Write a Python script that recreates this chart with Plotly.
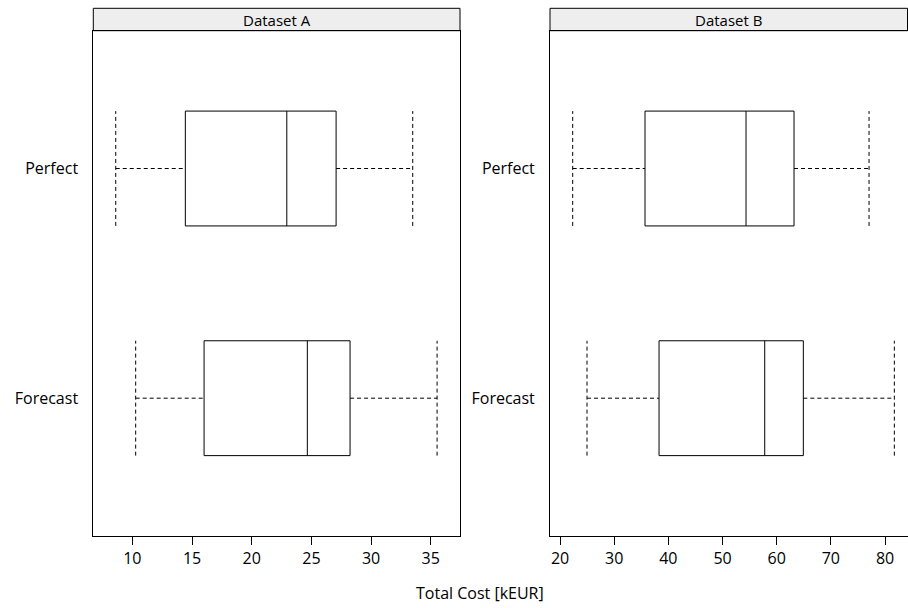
import plotly.graph_objects as go

# Box-and-whisker summaries of total cost per scenario (kEUR)
categories = ["Forecast", "Perfect"]
panels = ["Dataset A", "Dataset B"]

lower_a = [10.28, 8.61]
q1_a = [16.01, 14.44]
median_a = [24.66, 22.94]
q3_a = [28.24, 27.07]
upper_a = [35.53, 33.49]

lower_b = [24.98, 22.34]
q1_b = [38.28, 35.69]
median_b = [57.79, 54.34]
q3_b = [64.92, 63.20]
upper_b = [81.72, 77.05]

ticks_a = [10, 15, 20, 25, 30, 35]
ticks_b = [20, 30, 40, 50, 60, 70, 80]

W, H = 908, 608
FONT = "Open Sans"
HALF = 0.25  # half height of a box in category units
LINE = dict(color="black", width=1)
DASH = dict(color="black", width=1, dash="4px,3px")

fig = go.Figure()


def add_boxes(lo, q1, med, q3, hi, xa, ya):
    for i in range(len(categories)):
        y0, y1 = i - HALF, i + HALF
        # box outline
        fig.add_trace(go.Scatter(x=[q1[i], q3[i], q3[i], q1[i], q1[i]],
                                 y=[y0, y0, y1, y1, y0], mode="lines",
                                 line=LINE, xaxis=xa, yaxis=ya,
                                 hoverinfo="skip", showlegend=False))
        # median
        fig.add_trace(go.Scatter(x=[med[i], med[i]], y=[y0, y1], mode="lines",
                                 line=LINE, xaxis=xa, yaxis=ya,
                                 hoverinfo="skip", showlegend=False))
        # whiskers
        for a, b in ((lo[i], q1[i]), (q3[i], hi[i])):
            fig.add_trace(go.Scatter(x=[a, b], y=[i, i], mode="lines",
                                     line=DASH, xaxis=xa, yaxis=ya,
                                     hoverinfo="skip", showlegend=False))
        # whisker ends
        for v in (lo[i], hi[i]):
            fig.add_trace(go.Scatter(x=[v, v], y=[y0, y1], mode="lines",
                                     line=DASH, xaxis=xa, yaxis=ya,
                                     hoverinfo="skip", showlegend=False))


add_boxes(lower_a, q1_a, median_a, q3_a, upper_a, "x", "y")
add_boxes(lower_b, q1_b, median_b, q3_b, upper_b, "x2", "y2")

# panel geometry in pixels
ax_a = (93.3, 460.0)
ax_b = (550.0, 907.5)
plot_top, plot_bot = 30.7, 536.0
strip_top = 8.3


def px(x):
    return x / W


def py(y):
    return 1 - y / H


yaxis_common = dict(range=[-0.6, 1.6], tickvals=[0, 1], ticktext=categories,
                    showgrid=False, zeroline=False, showline=True, mirror=True,
                    linecolor="black", linewidth=1, ticks="",
                    ticklabelstandoff=11,
                    tickfont=dict(family=FONT, size=16, color="black"),
                    domain=[py(plot_bot), py(plot_top)])
xaxis_common = dict(showgrid=False, zeroline=False, showline=True, mirror=True,
                    linecolor="black", linewidth=1, ticks="outside", ticklen=8,
                    tickcolor="black", tickwidth=1,
                    tickfont=dict(family=FONT, size=16, color="black"))

fig.update_layout(
    width=W, height=H,
    margin=dict(l=0, r=0, t=0, b=0),
    paper_bgcolor="white", plot_bgcolor="white",
    xaxis=dict(xaxis_common, domain=[px(ax_a[0]), px(ax_a[1])],
               range=[6.73, 37.45], tickvals=ticks_a, anchor="y"),
    xaxis2=dict(xaxis_common, domain=[px(ax_b[0]), px(ax_b[1])],
                range=[18.15, 84.15], tickvals=ticks_b, anchor="y2"),
    yaxis=dict(yaxis_common, anchor="x"),
    yaxis2=dict(yaxis_common, anchor="x2"),
    showlegend=False,
)

# strip headers
for (x0, x1), name in zip((ax_a, ax_b), panels):
    fig.add_shape(type="rect", xref="paper", yref="paper",
                  x0=px(x0), x1=px(x1), y0=py(plot_top), y1=py(strip_top),
                  line=dict(color="black", width=1), fillcolor="#eeeeee",
                  layer="below")
    fig.add_annotation(xref="paper", yref="paper",
                       x=px((x0 + x1) / 2), y=py((strip_top + plot_top) / 2),
                       text=name, showarrow=False, xanchor="center",
                       yanchor="middle",
                       font=dict(family=FONT, size=15, color="black"))

fig.add_annotation(xref="paper", yref="paper", x=px(480), y=py(593),
                   text="Total Cost [kEUR]", showarrow=False,
                   xanchor="center", yanchor="middle",
                   font=dict(family=FONT, size=16, color="black"))

fig.write_html("out.html")
